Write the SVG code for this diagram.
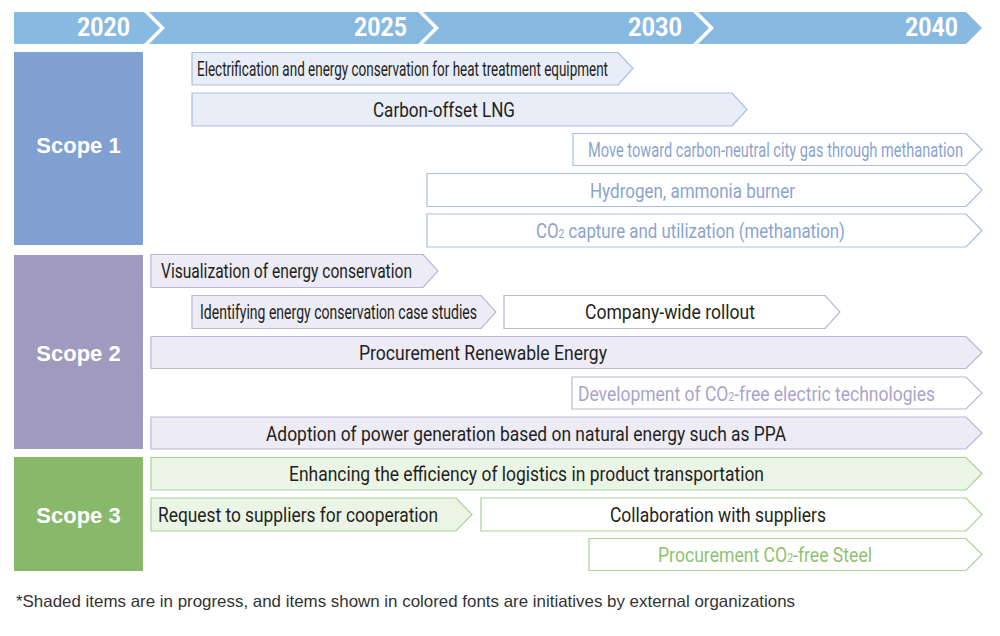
<svg xmlns="http://www.w3.org/2000/svg" width="1000" height="636" viewBox="0 0 1000 636">
<style>
.hdr{fill:#87b9e1}
.yr{font-family:Roboto,"Liberation Sans",sans-serif;font-weight:700;font-size:25px;fill:#fff;text-anchor:end}
.scope{font-family:"Liberation Sans",Arial,sans-serif;font-weight:700;font-size:22px;fill:#fff;text-anchor:middle}
.t{font-family:Roboto,"Liberation Sans",sans-serif;font-size:20px;fill:#231f20}
.sub{font-size:12px}
.s1{fill:#e8edf8;stroke:#a9bfe3;stroke-width:1.2}
.s1o{fill:#fff;stroke:#a9bfe3;stroke-width:1.2}
.s2{fill:#ecebf6;stroke:#bcb7d8;stroke-width:1.2}
.s2o{fill:#fff;stroke:#bcb7d8;stroke-width:1.2}
.s3{fill:#eaf5e6;stroke:#aad39a;stroke-width:1.2}
.s3o{fill:#fff;stroke:#aad39a;stroke-width:1.2}
.c1{fill:#8aa4d2}
.c2{fill:#a9a4cc}
.c3{fill:#8ec270}
.note{font-family:"Liberation Sans",Arial,sans-serif;font-size:16.5px;fill:#333}
</style>
<rect width="1000" height="636" fill="#fff"/>

<g id="timeline">
<polygon class="hdr" points="14,12 144,12 160,28 144,44 14,44"/>
<polygon class="hdr" points="149,12 418,12 434,28 418,44 149,44 165,28"/>
<polygon class="hdr" points="423,12 693,12 709,28 693,44 423,44 439,28"/>
<polygon class="hdr" points="698,12 966,12 982,28 966,44 698,44 714,28"/>
<text class="yr" x="130" y="36" textLength="53" lengthAdjust="spacingAndGlyphs">2020</text>
<text class="yr" x="407" y="36" textLength="53" lengthAdjust="spacingAndGlyphs">2025</text>
<text class="yr" x="682" y="36" textLength="54" lengthAdjust="spacingAndGlyphs">2030</text>
<text class="yr" x="958" y="36" textLength="53" lengthAdjust="spacingAndGlyphs">2040</text>
</g>

<g id="scope1">
<rect x="14" y="52" width="129" height="193" fill="#7fa0d1"/>
<text class="scope" x="78.5" y="153">Scope 1</text>
</g>
<g id="scope2">
<rect x="14" y="255" width="129" height="194" fill="#a19abf"/>
<text class="scope" x="78.5" y="361">Scope 2</text>
</g>
<g id="scope3">
<rect x="14" y="457" width="129" height="114" fill="#88b86a"/>
<text class="scope" x="78.5" y="523">Scope 3</text>
</g>

<g id="connectors"></g>

<g id="bar-electrification">
<path class="s1" d="M192,52.5 H618 L633,68.5 L618,85 H192 Z"/>
<text class="t" x="197" y="76" textLength="411" lengthAdjust="spacingAndGlyphs">Electrification and energy conservation for heat treatment equipment</text>
</g>
<g id="bar-lng">
<path class="s1" d="M192,93 H732 L747,109.5 L732,126 H192 Z"/>
<text class="t" x="373" y="117" textLength="142" lengthAdjust="spacingAndGlyphs">Carbon-offset LNG</text>
</g>
<g id="bar-methanation-gas">
<path class="s1o" d="M573,133.5 H966 L982,149.5 L966,165.5 H573 Z"/>
<text class="t c1" x="588" y="157" textLength="375" lengthAdjust="spacingAndGlyphs">Move toward carbon-neutral city gas through methanation</text>
</g>
<g id="bar-hydrogen">
<path class="s1o" d="M427,173.5 H966 L982,190 L966,206.5 H427 Z"/>
<text class="t c1" x="590" y="197.5" textLength="205" lengthAdjust="spacingAndGlyphs">Hydrogen, ammonia burner</text>
</g>
<g id="bar-co2-capture">
<path class="s1o" d="M427,214 H966 L982,230.5 L966,247 H427 Z"/>
<text class="t c1" x="536" y="238" textLength="309" lengthAdjust="spacingAndGlyphs">CO<tspan class="sub">2</tspan> capture and utilization (methanation)</text>
</g>

<g id="bar-visualization">
<path class="s2" d="M151,254.5 H423 L438,271 L423,287.5 H151 Z"/>
<text class="t" x="161" y="278" textLength="251" lengthAdjust="spacingAndGlyphs">Visualization of energy conservation</text>
</g>
<g id="bar-case-studies">
<path class="s2" d="M192,295.5 H481 L496,312 L481,328.5 H192 Z"/>
<text class="t" x="200" y="319" textLength="277" lengthAdjust="spacingAndGlyphs">Identifying energy conservation case studies</text>
</g>
<g id="bar-rollout">
<path class="s2o" d="M504,295.5 H825 L840,312 L825,328.5 H504 Z"/>
<text class="t" x="585" y="319" textLength="170" lengthAdjust="spacingAndGlyphs">Company-wide rollout</text>
</g>
<g id="bar-renewable">
<path class="s2" d="M151,336.5 H966 L982,352.5 L966,368.5 H151 Z"/>
<text class="t" x="359" y="360" textLength="248" lengthAdjust="spacingAndGlyphs">Procurement Renewable Energy</text>
</g>
<g id="bar-co2-free-electric">
<path class="s2o" d="M572,377 H966 L982,393 L966,409 H572 Z"/>
<text class="t c2" x="578" y="400.5" textLength="357" lengthAdjust="spacingAndGlyphs">Development of CO<tspan class="sub">2</tspan>-free electric technologies</text>
</g>
<g id="bar-ppa">
<path class="s2" d="M151,417 H966 L982,433 L966,449 H151 Z"/>
<text class="t" x="266" y="440.5" textLength="520" lengthAdjust="spacingAndGlyphs">Adoption of power generation based on natural energy such as PPA</text>
</g>

<g id="bar-logistics">
<path class="s3" d="M151,457.5 H966 L982,473.5 L966,490 H151 Z"/>
<text class="t" x="289" y="481" textLength="475" lengthAdjust="spacingAndGlyphs">Enhancing the efficiency of logistics in product transportation</text>
</g>
<g id="bar-request">
<path class="s3" d="M151,498 H456 L472,514.5 L456,531 H151 Z"/>
<text class="t" x="158" y="522" textLength="280" lengthAdjust="spacingAndGlyphs">Request to suppliers for cooperation</text>
</g>
<g id="bar-collaboration">
<path class="s3o" d="M481,498 H966 L982,514.5 L966,531 H481 Z"/>
<text class="t" x="610" y="522" textLength="216" lengthAdjust="spacingAndGlyphs">Collaboration with suppliers</text>
</g>
<g id="bar-steel">
<path class="s3o" d="M589,538.5 H966 L982,554.5 L966,570.5 H589 Z"/>
<text class="t c3" x="658" y="562" textLength="214" lengthAdjust="spacingAndGlyphs">Procurement CO<tspan class="sub">2</tspan>-free Steel</text>
</g>

<text class="note" x="16" y="607" textLength="779" lengthAdjust="spacingAndGlyphs">*Shaded items are in progress, and items shown in colored fonts are initiatives by external organizations</text>
</svg>
